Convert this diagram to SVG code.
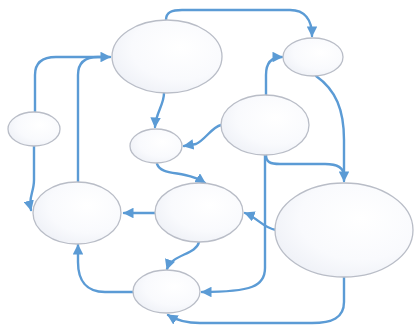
<svg xmlns="http://www.w3.org/2000/svg" width="414" height="328" viewBox="0 0 414 328">
<style>
.n{fill:url(#g);stroke:#b9bdc7;stroke-width:1.3}
.c{fill:none;stroke:#5b9bd5;stroke-width:2.4;stroke-linecap:round;stroke-linejoin:round}
.a{marker-end:url(#m)}
</style>
<defs>
<radialGradient id="g" cx="0.62" cy="0.38" r="0.8">
<stop offset="0" stop-color="#ffffff"/>
<stop offset="0.55" stop-color="#f9fafd"/>
<stop offset="1" stop-color="#eaedf4"/>
</radialGradient>
<marker id="m" viewBox="0 0 10 10" refX="9" refY="5" markerWidth="4.4" markerHeight="4.4" orient="auto" markerUnits="strokeWidth">
<path d="M0,0 L10,5 L0,10 Z" fill="#5b9bd5"/>
</marker>
</defs>
<rect width="414" height="328" fill="#ffffff"/>
<g id="connectors">
<path class="c a" d="M166,20 C166,12 172,10 182,10 L290,10 C305,10 312,20 312,36"/>
<path class="c a" d="M35,112 L35,75 C35,63 42,57 56,57 L110,57"/>
<path class="c" d="M78,182 L78,75 C78,63 84,57 98,57 L105,57"/>
<path class="c a" d="M34,146 L34,180 C34,192 28,198 31,210"/>
<path class="c a" d="M164,93 C164,105 156,112 155,127"/>
<path class="c a" d="M221,125 C212,127 205,140 196,144 L184,146"/>
<path class="c a" d="M266,96 L266,75 C266,63 271,57 282,57"/>
<path class="c a" d="M316,76 C336,90 344,110 344,140 L344,181"/>
<path class="c" d="M266,155 C266,162 270,164 280,164 L325,164 C340,164 344,170 344,176"/>
<path class="c a" d="M265,155 L265,268 C265,286 252,292 202,292"/>
<path class="c a" d="M276,230 C263,228 258,218 245,213"/>
<path class="c a" d="M344,277 L344,302 C344,318 332,323 312,323 L200,323 C186,323 176,320 168,315"/>
<path class="c a" d="M157,164 C160,172 170,172 185,175 C195,177 199,179 205,183"/>
<path class="c a" d="M155,213 L124,213"/>
<path class="c a" d="M199,242 C196,255 172,254 167,269"/>
<path class="c a" d="M133,292 L105,292 C86,292 78,280 78,262 L78,245"/>
</g>
<g id="nA"><ellipse class="n" cx="167" cy="56.5" rx="55" ry="36.5"/></g>
<g id="nB"><ellipse class="n" cx="34" cy="129" rx="26" ry="17"/></g>
<g id="nC"><ellipse class="n" cx="156" cy="146" rx="26" ry="17"/></g>
<g id="nD"><ellipse class="n" cx="313" cy="57" rx="30" ry="19"/></g>
<g id="nE"><ellipse class="n" cx="265" cy="125" rx="44" ry="30"/></g>
<g id="nF"><ellipse class="n" cx="77" cy="213" rx="44" ry="31"/></g>
<g id="nG"><ellipse class="n" cx="199" cy="212.5" rx="44" ry="29.5"/></g>
<g id="nH"><ellipse class="n" cx="166.5" cy="291.5" rx="33.5" ry="21.5"/></g>
<g id="nI"><ellipse class="n" cx="344" cy="230" rx="69" ry="47"/></g>
</svg>
